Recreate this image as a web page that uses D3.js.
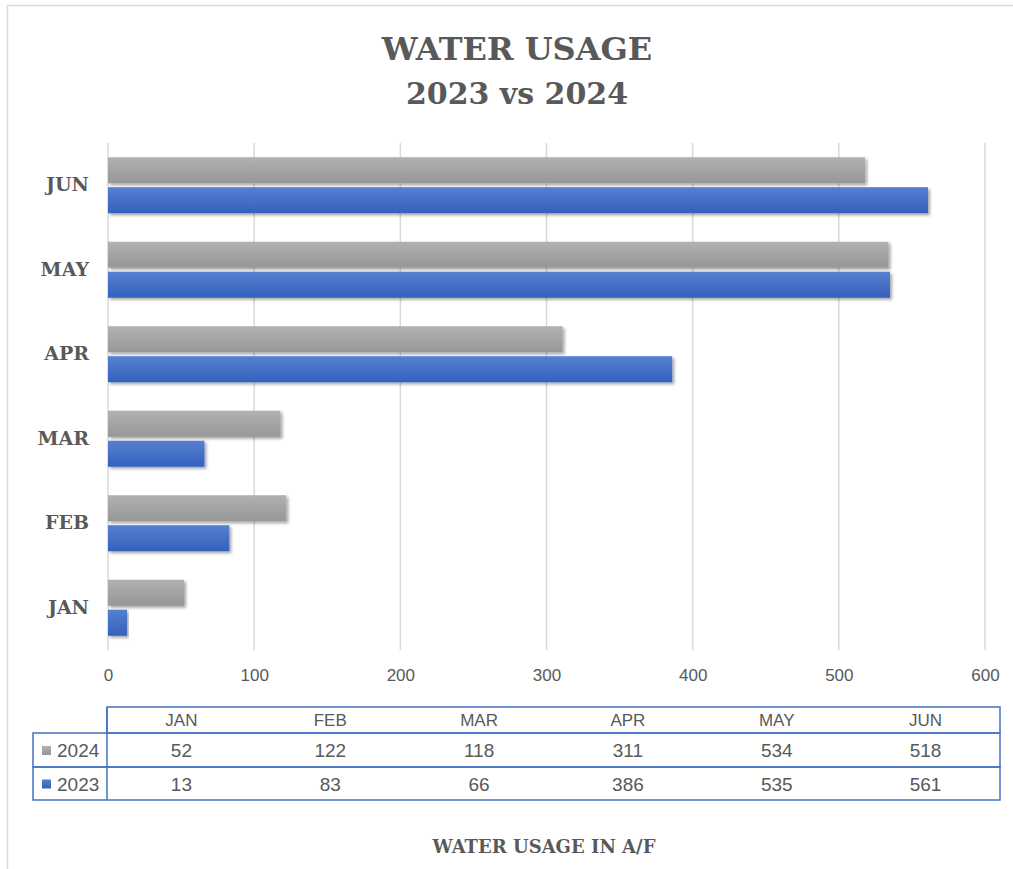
<!DOCTYPE html>
<html>
<head>
<meta charset="utf-8">
<script src="https://cdn.jsdelivr.net/npm/d3@7"></script>
<style>
  body { margin: 0; background: #fff; }
  svg { display: block; }
</style>
</head>
<body>
<svg></svg>
<script>
// data
const months = ["JAN", "FEB", "MAR", "APR", "MAY", "JUN"];
const years = ["2024", "2023"];
const usage2024 = [52, 122, 118, 311, 534, 518];
const usage2023 = [13, 83, 66, 386, 535, 561];
const xTicks = [0, 100, 200, 300, 400, 500, 600];

const series = [
  { year: "2024", values: usage2024, grad: "gGray" },
  { year: "2023", values: usage2023, grad: "gBlue" }
];

// setting
const Width = 1013, Height = 869;
const textCol = "#595959";
const slab = "'DejaVu Serif', 'Liberation Serif', serif";
const body = "'Liberation Sans', 'Open Sans', sans-serif";

const svg = d3.select("svg").attr("width", Width).attr("height", Height);

// frame
svg.append("rect")
  .attr("x", 7.5).attr("y", 5.5)
  .attr("width", Width + 20).attr("height", Height + 20)
  .attr("fill", "#fff").attr("stroke", "#d9d9d9").attr("stroke-width", 1.5);

const defs = svg.append("defs");
function grad(id, top, bottom) {
  const g = defs.append("linearGradient").attr("id", id)
    .attr("x1", 0).attr("y1", 0).attr("x2", 0).attr("y2", 1);
  g.append("stop").attr("offset", "0%").attr("stop-color", top);
  g.append("stop").attr("offset", "100%").attr("stop-color", bottom);
}
grad("gGray", "#b1b1b1", "#979797");
grad("gBlue", "#5680d0", "#3461bd");

const shadow = defs.append("filter").attr("id", "shadow")
  .attr("x", "-5%").attr("y", "-30%").attr("width", "115%").attr("height", "180%");
shadow.append("feDropShadow")
  .attr("dx", 2).attr("dy", 2).attr("stdDeviation", 1.8)
  .attr("flood-color", "#000").attr("flood-opacity", 0.35);

// title
svg.append("text")
  .attr("x", 517).attr("y", 60)
  .attr("text-anchor", "middle")
  .style("font-family", slab).style("font-weight", "bold").style("font-size", "32px")
  .attr("fill", textCol)
  .text("WATER USAGE");
svg.append("text")
  .attr("x", 517).attr("y", 104)
  .attr("text-anchor", "middle")
  .style("font-family", slab).style("font-weight", "bold").style("font-size", "30px")
  .attr("fill", textCol)
  .text("2023 vs 2024");

// scales
const x = d3.scaleLinear().domain([0, 600]).range([108, 985]);
const y = d3.scaleBand().domain(months.slice().reverse()).range([143, 650])
  .paddingInner(0.337).paddingOuter(0.1685);
const yInner = d3.scaleBand().domain(years).range([0, y.bandwidth()]).paddingInner(0.13);

// gridlines
svg.append("g")
  .selectAll("line")
  .data(xTicks)
  .join("line")
  .attr("x1", d => x(d)).attr("x2", d => x(d))
  .attr("y1", 143).attr("y2", 650)
  .attr("stroke", "#d9d9d9").attr("stroke-width", 1.5);

// x axis labels
const xAxis = svg.append("g")
  .attr("transform", "translate(0,669)")
  .call(d3.axisBottom(x).tickValues(xTicks).tickSize(0).tickPadding(0));
xAxis.select(".domain").remove();
xAxis.selectAll("text")
  .style("font-family", body).style("font-size", "17px")
  .attr("fill", textCol);

// y axis labels
const yAxis = svg.append("g")
  .attr("transform", "translate(89,0)")
  .call(d3.axisLeft(y).tickSize(0).tickPadding(0));
yAxis.select(".domain").remove();
yAxis.selectAll("text")
  .style("font-family", slab).style("font-weight", "bold").style("font-size", "19px")
  .attr("fill", textCol);

// bars
series.forEach(s => {
  svg.append("g")
    .selectAll("rect")
    .data(s.values)
    .join("rect")
    .attr("x", x(0))
    .attr("y", (d, i) => y(months[i]) + yInner(s.year))
    .attr("width", d => x(d) - x(0))
    .attr("height", yInner.bandwidth())
    .attr("fill", `url(#${s.grad})`)
    .attr("filter", "url(#shadow)");
});

// data table
const tLeft = 107, tRight = 1000, keyLeft = 33;
const rowY = [707, 733, 767, 800];
const col = d3.scaleBand().domain(months).range([tLeft, tRight]);
const tbl = svg.append("g");
const lineCol = "#4472c4";

// header row
tbl.append("rect")
  .attr("x", tLeft).attr("y", rowY[0])
  .attr("width", tRight - tLeft).attr("height", rowY[1] - rowY[0])
  .attr("fill", "none").attr("stroke", lineCol).attr("stroke-width", 1.5);
// data rows
series.forEach((s, r) => {
  tbl.append("rect")
    .attr("x", keyLeft).attr("y", rowY[r + 1])
    .attr("width", tRight - keyLeft).attr("height", rowY[r + 2] - rowY[r + 1])
    .attr("fill", "none").attr("stroke", lineCol).attr("stroke-width", 1.5);
});
tbl.append("line")
  .attr("x1", tLeft).attr("x2", tLeft)
  .attr("y1", rowY[0]).attr("y2", rowY[3])
  .attr("stroke", lineCol).attr("stroke-width", 1.5);

tbl.selectAll("text.head")
  .data(months)
  .join("text")
  .attr("class", "head")
  .attr("x", d => col(d) + col.bandwidth() / 2)
  .attr("y", (rowY[0] + rowY[1]) / 2 + 6)
  .attr("text-anchor", "middle")
  .style("font-family", body).style("font-size", "17px")
  .attr("fill", textCol)
  .text(d => d);

series.forEach((s, r) => {
  const cy = (rowY[r + 1] + rowY[r + 2]) / 2;
  tbl.append("g")
    .selectAll("text")
    .data(s.values)
    .join("text")
    .attr("x", (d, i) => col(months[i]) + col.bandwidth() / 2)
    .attr("y", cy + 7)
    .attr("text-anchor", "middle")
    .style("font-family", body).style("font-size", "19px")
    .attr("fill", textCol)
    .text(d => d);
  tbl.append("rect")
    .attr("x", 42).attr("y", cy - 4)
    .attr("width", 9).attr("height", 9)
    .attr("fill", `url(#${s.grad})`);
  tbl.append("text")
    .attr("x", 57).attr("y", cy + 7)
    .style("font-family", body).style("font-size", "19px")
    .attr("fill", textCol)
    .text(s.year);
});

// axis title
svg.append("text")
  .attr("x", 544).attr("y", 853)
  .attr("text-anchor", "middle")
  .style("font-family", slab).style("font-weight", "bold").style("font-size", "18px")
  .attr("fill", textCol)
  .text("WATER USAGE IN A/F");
</script>
</body>
</html>
